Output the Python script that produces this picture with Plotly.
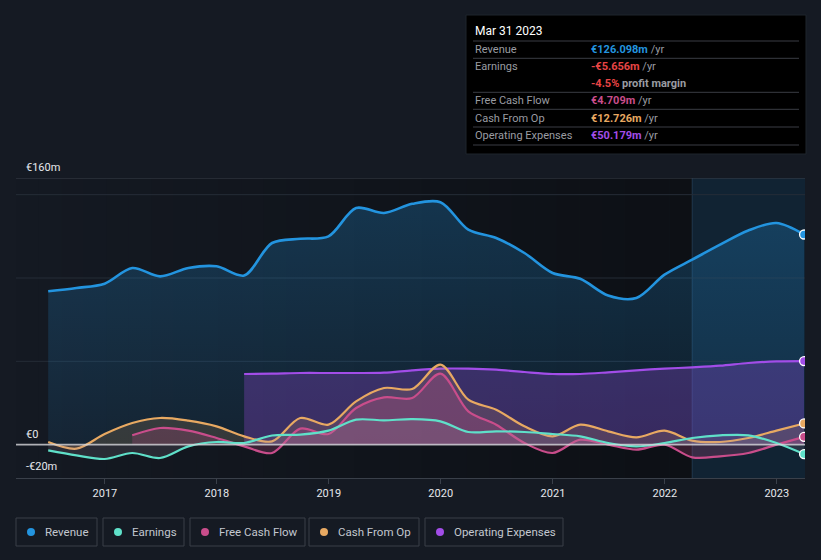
import plotly.graph_objects as go
import pandas as pd

# ---------------- data (EUR m, trailing twelve months) ----------------
dates = [d.strftime("%Y-%m-%d") for d in pd.date_range("2016-06-30", "2023-03-31", freq="QE")]

revenue = [92, 94, 96.6, 106, 101, 106, 107, 101.5, 121, 123.5, 125, 142, 139, 144.5,
           145.5, 129, 124, 115, 103, 99.5, 89.5, 88, 102, 111, 120, 128.5, 133, 126.098]
earnings = [-3.4, -6.4, -8.6, -5, -8, -1, 1.6, 1, 5.5, 6, 8.4, 15, 14.6, 15.3,
            14, 7.6, 8, 7.6, 6.4, 5, 1, -1, 1, 4, 5.6, 5.6, 1, -5.656]
free_cash_flow = [None, None, None, 5.6, 10, 8.4, 4, -1, -5, 9.6, 6.4, 22, 28.4, 28,
                  42.6, 20, 12, 1, -5, 3, 0, -3, 0, -7.6, -7, -5, 0, 4.709]
cash_from_op = [1.6, -2.4, 6.4, 13, 16, 14.4, 11, 5, 2, 16, 12, 26, 34, 33.4,
                48, 27, 21, 11, 5, 12, 8, 4.4, 8.4, 2.4, 1.6, 4, 8.4, 12.726]
operating_expenses = [None, None, None, None, None, None, None, 42.4, 42.6, 43, 43, 43, 43.2, 44.6,
                      45.6, 45.6, 45, 43.6, 42.4, 42.4, 43.4, 44.6, 45.6, 46.4, 47.4, 49, 50, 50.179]

series_names = ["Revenue", "Earnings", "Free Cash Flow", "Cash From Op", "Operating Expenses"]
series_colors = ["#2394df", "#5fe0c9", "#c94d8b", "#e8a962", "#a24de8"]

tooltip_date = "Mar 31 2023"
x_tick_start = "2017-01-01"

# ---------------- figure ----------------
W, H = 821, 560
ML, MR, MT, MB = 16, 16, 178, 82
PW, PH = W - ML - MR, H - MT - MB

def px(x):
    return (x - ML) / PW

def py(y):
    return (H - MB - y) / PH

BG = "#151a23"
fig = go.Figure()

def add_series(vals, color, fill, width=2.2):
    xs = [d for d, v in zip(dates, vals) if v is not None]
    ys = [v for v in vals if v is not None]
    kw = dict(fill="tozeroy")
    if isinstance(fill, dict):
        kw["fillgradient"] = fill
    else:
        kw["fillcolor"] = fill
    fig.add_trace(go.Scatter(x=xs, y=ys, mode="lines",
                             line=dict(color=color, width=width, shape="spline", smoothing=0.9),
                             hoverinfo="skip", showlegend=False, **kw))
    fig.add_trace(go.Scatter(x=[xs[-1]], y=[ys[-1]], mode="markers",
                             marker=dict(color=color, size=9, line=dict(color="white", width=1.3)),
                             hoverinfo="skip", showlegend=False))

add_series(revenue, series_colors[0],
           dict(type="vertical", colorscale=[[0, "rgba(35,148,223,0.10)"], [1, "rgba(35,148,223,0.26)"]]),
           width=2.6)
add_series(operating_expenses, series_colors[4], "rgba(162,77,232,0.28)")
add_series(cash_from_op, series_colors[3], "rgba(232,169,98,0.16)")
add_series(free_cash_flow, series_colors[2], "rgba(201,77,139,0.22)")
add_series(earnings, series_colors[1], "rgba(170,150,170,0.16)")

shapes = []
# background gradient darkening to the right
x_start = pd.Timestamp("2016-03-17")
x_hl = pd.Timestamp("2022-03-31")
x_end = pd.Timestamp("2023-04-03")
n = 30
span = (x_hl - x_start) / n
for i in range(n):
    a = x_start + span * i
    b = x_start + span * (i + 1)
    shapes.append(dict(type="rect", xref="x", yref="paper", x0=a, x1=b, y0=0, y1=1,
                       fillcolor="black", opacity=0.38 * (i + 1) / n, line_width=0, layer="below"))
# highlighted last year
shapes.append(dict(type="rect", xref="x", yref="paper", x0=x_hl, x1=x_end, y0=0, y1=1,
                   fillcolor="#112333", opacity=1, line_width=0, layer="below"))
shapes.append(dict(type="line", xref="x", yref="paper", x0=x_hl, x1=x_hl, y0=0, y1=1,
                   line=dict(color="rgba(70,110,140,0.35)", width=1), layer="below"))
# grid lines
for gv, col in [(50, "#252c37"), (100, "#252c37"), (150, "#252c37"), (160, "#3a404a")]:
    shapes.append(dict(type="line", xref="paper", yref="y", x0=0, x1=1, y0=gv, y1=gv,
                       line=dict(color=col, width=1), layer="below"))
# zero line
shapes.append(dict(type="line", xref="paper", yref="y", x0=0, x1=1, y0=0, y1=0,
                   line=dict(color="rgba(215,215,220,0.8)", width=1.6), layer="above"))

annotations = []
# y labels
for txt, yv in [("€160m", 160), ("€0", 0), ("-€20m", -20)]:
    annotations.append(dict(text=txt, xref="paper", yref="y", x=px(24), y=yv, xanchor="left",
                            yanchor="bottom", yshift=(2 if yv != -20 else 3), showarrow=False,
                            font=dict(color="#e6e8ec", size=11, family="Roboto")))

# tooltip box
shapes.append(dict(type="rect", xref="paper", yref="paper", x0=px(466), x1=px(806), y0=py(15), y1=py(154),
                   fillcolor="#000000", line=dict(color="#1f242c", width=1), layer="above"))
for ly in [41, 58.3, 92.3, 109.3, 127, 145]:
    shapes.append(dict(type="line", xref="paper", yref="paper", x0=px(473), x1=px(799), y0=py(ly), y1=py(ly),
                       line=dict(color="#3a3d44", width=1), layer="above"))
annotations.append(dict(text=tooltip_date, xref="paper", yref="paper", x=px(473), y=py(31), xanchor="left",
                        yanchor="middle", showarrow=False, font=dict(color="#ffffff", size=12, family="Roboto")))
grey = "#9a9ca2"
rows = [
    ("Revenue", "<b><span style='color:#2394df'>€126.098m</span></b> <span style='color:%s'>/yr</span>" % grey, 49.5),
    ("Earnings", "<b><span style='color:#e84545'>-€5.656m</span></b> <span style='color:%s'>/yr</span>" % grey, 66.5),
    ("", "<b><span style='color:#e84545'>-4.5%%</span> <span style='color:%s'>profit margin</span></b>" % grey, 83.5),
    ("Free Cash Flow", "<b><span style='color:#c94d8b'>€4.709m</span></b> <span style='color:%s'>/yr</span>" % grey, 100.5),
    ("Cash From Op", "<b><span style='color:#e8a962'>€12.726m</span></b> <span style='color:%s'>/yr</span>" % grey, 118),
    ("Operating Expenses", "<b><span style='color:#a24de8'>€50.179m</span></b> <span style='color:%s'>/yr</span>" % grey, 135.5),
]
for lab, val, yy in rows:
    if lab:
        annotations.append(dict(text=lab, xref="paper", yref="paper", x=px(473), y=py(yy), xanchor="left",
                                yanchor="middle", showarrow=False, font=dict(color=grey, size=11, family="Roboto")))
    annotations.append(dict(text=val, xref="paper", yref="paper", x=px(589), y=py(yy), xanchor="left",
                            yanchor="middle", showarrow=False, font=dict(color=grey, size=11, family="Roboto")))

# legend boxes
legend_boxes = [(16, 97), (103, 184), (190, 305), (309, 419), (425, 563)]
for (x0, x1), name, col in zip(legend_boxes, series_names, series_colors):
    shapes.append(dict(type="rect", xref="paper", yref="paper", x0=px(x0), x1=px(x1), y0=py(518), y1=py(546),
                       fillcolor=BG, line=dict(color="#3a3f49", width=1), layer="above"))
    shapes.append(dict(type="circle", xref="paper", yref="paper", x0=px(x0 + 11), x1=px(x0 + 19),
                       y0=py(528), y1=py(536), fillcolor=col, line_width=0, layer="above"))
    annotations.append(dict(text=name, xref="paper", yref="paper", x=px(x0 + 27), y=py(532), xanchor="left",
                            yanchor="middle", showarrow=False, font=dict(color="#c3c7cf", size=11.5, family="Roboto")))

fig.update_layout(
    width=W, height=H,
    margin=dict(l=ML, r=MR, t=MT, b=MB),
    paper_bgcolor=BG, plot_bgcolor=BG,
    showlegend=False,
    shapes=shapes, annotations=annotations,
    font=dict(family="Roboto", color="#e6e8ec"),
    xaxis=dict(type="date", range=[x_start, x_end], showgrid=False, zeroline=False,
               tick0=x_tick_start, dtick="M12", tickformat="%Y",
               ticks="outside", ticklen=5, tickcolor="#3a404a",
               showline=True, linecolor="#3a404a", linewidth=1,
               tickfont=dict(color="#e6e8ec", size=11, family="Roboto")),
    yaxis=dict(range=[-20, 160], showgrid=False, zeroline=False, showticklabels=False, fixedrange=True),
)

fig.write_html("out.html", config={"displayModeBar": False},
               post_script="document.body.style.margin='0';document.body.style.background='%s';" % BG)
